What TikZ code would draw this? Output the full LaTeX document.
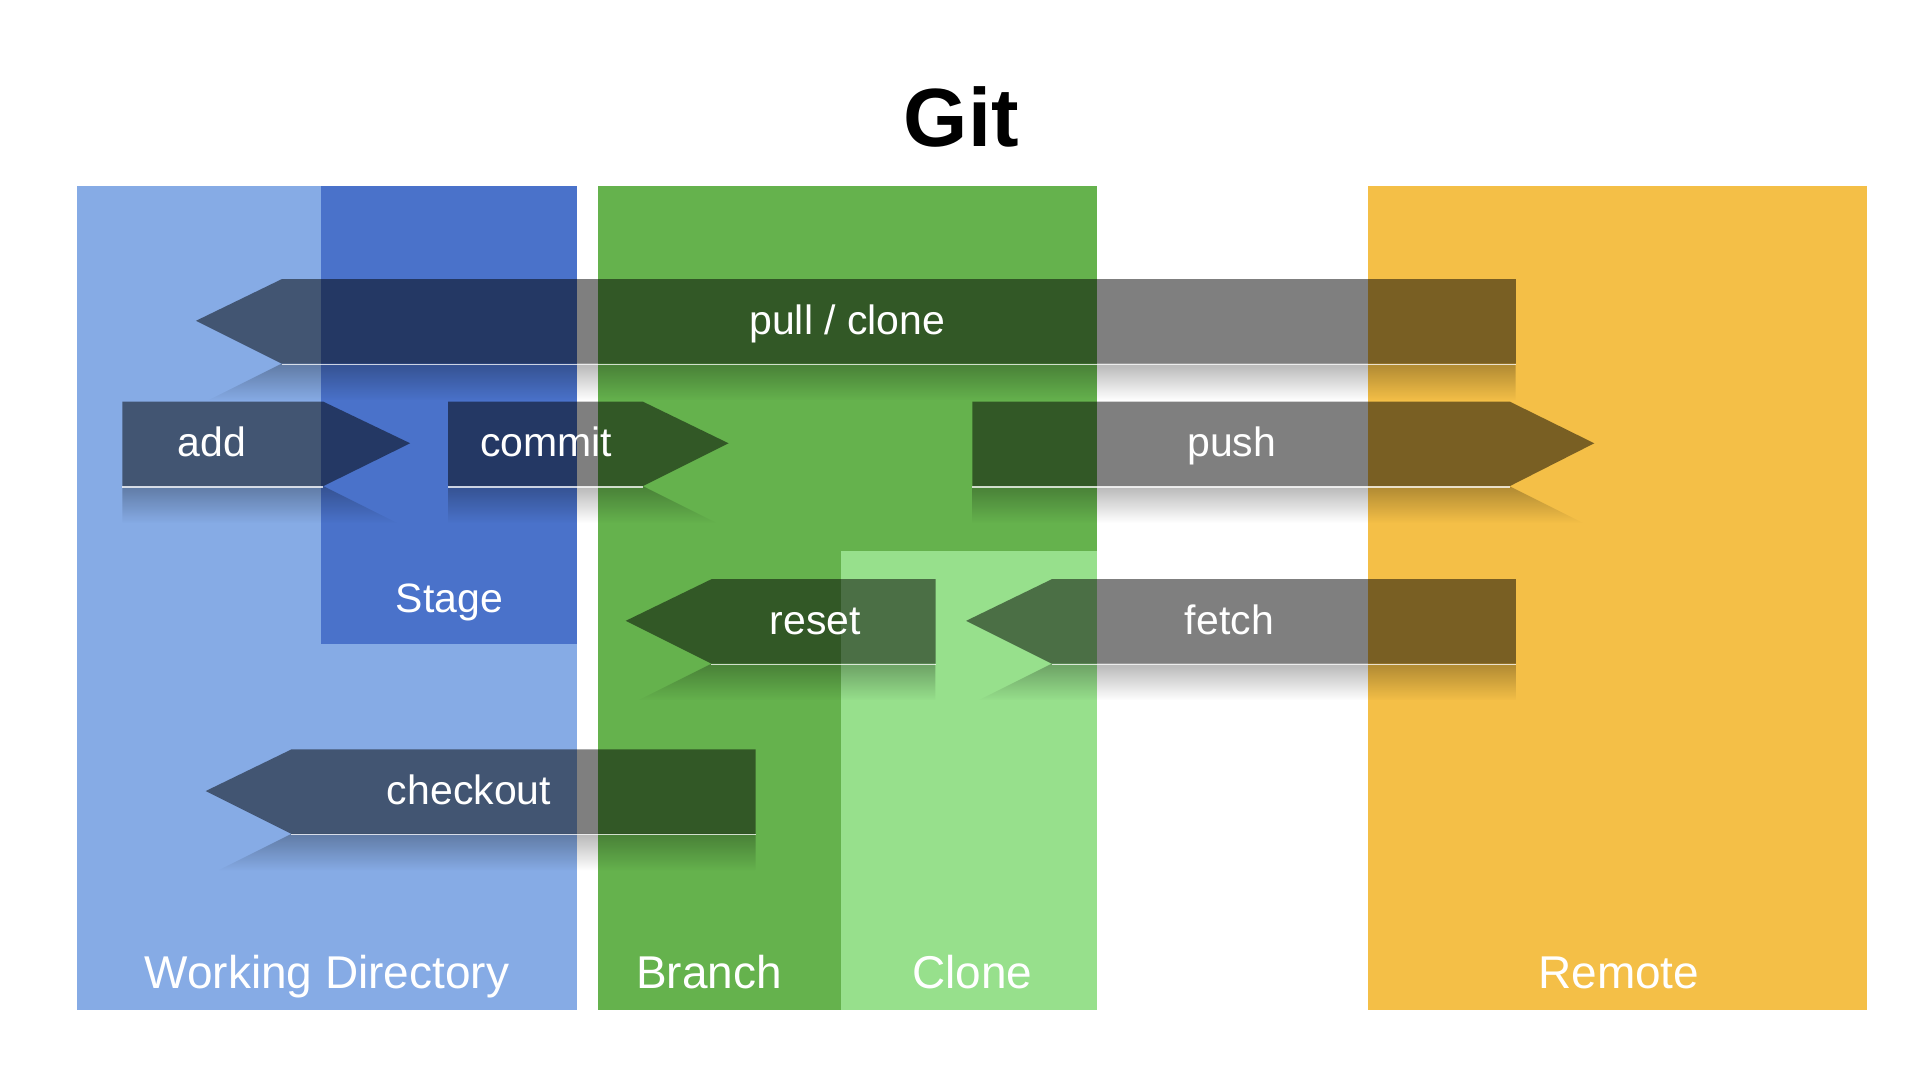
\documentclass[tikz,border=0pt]{standalone}
\usepackage{fontspec}
\setmainfont{Liberation Sans}
\usetikzlibrary{fadings}

\begin{document}
\begin{tikzpicture}[x=0.025cm,y=-0.025cm,
    area/.style={draw=none},
    flow/.style={fill=black,fill opacity=0.5},
    shine/.style={fill=black,fill opacity=0.28,path fading=south},
    edge/.style={draw=white,draw opacity=0.75,line width=0.9pt},
    flowtext/.style={inner sep=0pt,anchor=base,text=white,font=\fontsize{23.8}{28}\selectfont},
    areatext/.style={inner sep=0pt,anchor=base,text=white,font=\fontsize{26.7}{31}\selectfont}]
\definecolor{wdblue}{RGB}{134,171,229}
\definecolor{stageblue}{RGB}{74,114,202}
\definecolor{branchgreen}{RGB}{101,178,77}
\definecolor{clonegreen}{RGB}{151,224,140}
\definecolor{remoteyellow}{RGB}{244,191,71}
\useasboundingbox (0,0) rectangle (1568,882);
% title
\node (title) [inner sep=0pt,anchor=base,font=\fontsize{48}{56}\selectfont\bfseries] at (785,120) {Git};
% areas
\fill [area,wdblue] (63,152) rectangle (471,825);
\fill [area,stageblue] (262,152) rectangle (471,526);
\fill [area,branchgreen] (488,152) rectangle (896,825);
\fill [area,clonegreen] (687,450) rectangle (896,825);
\fill [area,remoteyellow] (1117,152) rectangle (1525,825);
\node (wd) [areatext] at (267,807) {Working Directory};
\node (stage) [flowtext] at (367,500) {Stage};
\node (branch) [areatext] at (579,807) {Branch};
\node (clone) [areatext] at (794,807) {Clone};
\node (remote) [areatext] at (1322,807) {Remote};
% pull / clone
\fill [flow] (160,262) -- (230,228) -- (1238,228) -- (1238,297) -- (230,297) -- cycle;
\fill [shine] (230,297) -- (1238,297) -- (1238,327) -- (170,327) -- cycle;
\draw [edge] (230,297.5) -- (1238,297.5);
\node (pullclone) [flowtext] at (692,273) {pull / clone};
% add
\fill [flow] (100,328) -- (264,328) -- (335,362) -- (264,397) -- (100,397) -- cycle;
\fill [shine] (100,397) -- (264,397) -- (324,427) -- (100,427) -- cycle;
\draw [edge] (100,397.5) -- (264,397.5);
\node (add) [flowtext] at (173,373) {add};
% commit
\fill [flow] (366,328) -- (525,328) -- (595,362) -- (525,397) -- (366,397) -- cycle;
\fill [shine] (366,397) -- (525,397) -- (585,427) -- (366,427) -- cycle;
\draw [edge] (366,397.5) -- (525,397.5);
\node (commit) [flowtext] at (446,373) {commit};
% push
\fill [flow] (794,328) -- (1233,328) -- (1302,362) -- (1233,397) -- (794,397) -- cycle;
\fill [shine] (794,397) -- (1233,397) -- (1293,427) -- (794,427) -- cycle;
\draw [edge] (794,397.5) -- (1233,397.5);
\node (push) [flowtext] at (1006,373) {push};
% reset
\fill [flow] (511,507) -- (581,473) -- (764,473) -- (764,542) -- (581,542) -- cycle;
\fill [shine] (581,542) -- (764,542) -- (764,572) -- (521,572) -- cycle;
\draw [edge] (581,542.5) -- (764,542.5);
\node (reset) [flowtext] at (666,518) {reset};
% fetch
\fill [flow] (789,507) -- (859,473) -- (1238,473) -- (1238,542) -- (859,542) -- cycle;
\fill [shine] (859,542) -- (1238,542) -- (1238,572) -- (799,572) -- cycle;
\draw [edge] (859,542.5) -- (1238,542.5);
\node (fetch) [flowtext] at (1004,518) {fetch};
% checkout
\fill [flow] (168,646) -- (238,612) -- (617,612) -- (617,681) -- (238,681) -- cycle;
\fill [shine] (238,681) -- (617,681) -- (617,711) -- (178,711) -- cycle;
\draw [edge] (238,681.5) -- (617,681.5);
\node (checkout) [flowtext] at (383,657) {checkout};
\end{tikzpicture}
\end{document}
